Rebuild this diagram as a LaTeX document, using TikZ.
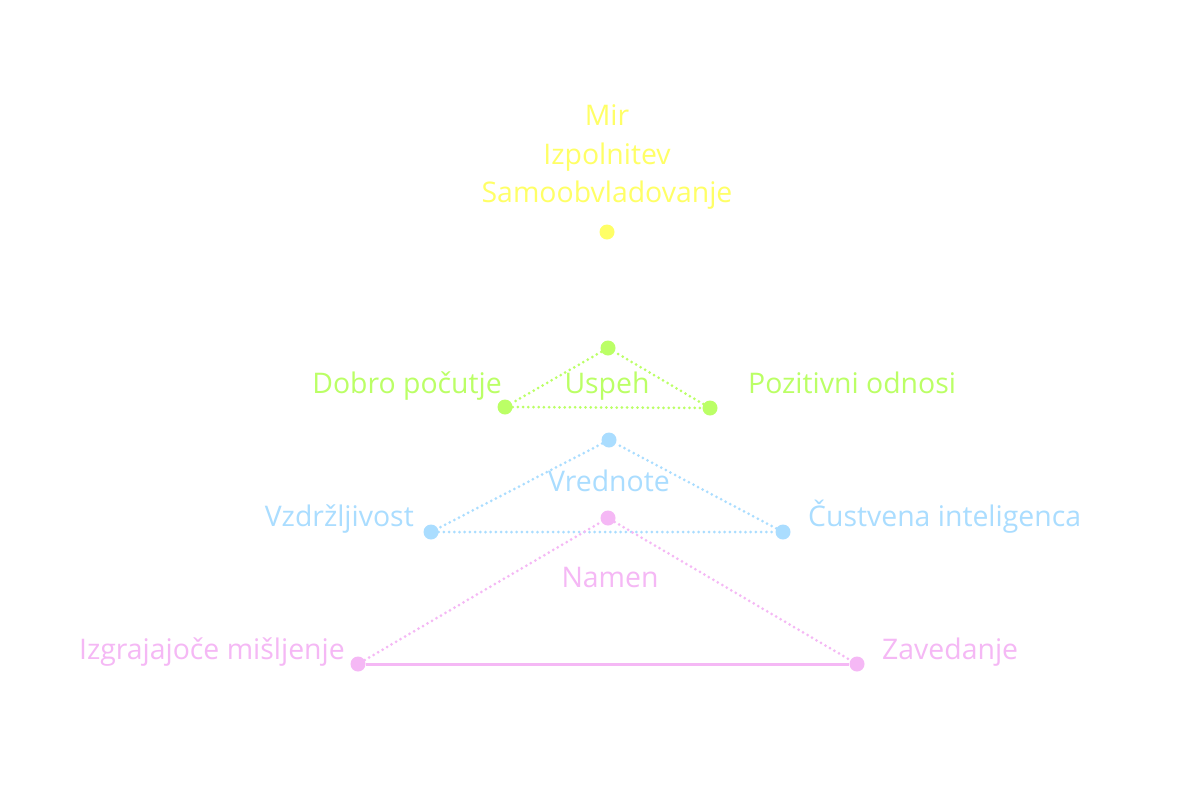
\documentclass[tikz,border=0pt]{standalone}
\usepackage{fontspec}
\setmainfont{Open Sans}
\definecolor{cy}{HTML}{FFFF66}
\definecolor{cg}{HTML}{BBFF66}
\definecolor{cb}{HTML}{AADDFF}
\definecolor{cp}{HTML}{F5B8F5}
\tikzset{
  pt/.style={circle,fill=#1,inner sep=0pt,minimum size=15pt},
  lbl/.style={text=#1,inner sep=0pt,font=\fontsize{28.4}{38.5}\selectfont},
  edge/.style={draw=#1,line width=3pt,dash pattern=on 0pt off 5.2pt,line cap=round},
  solidedge/.style={draw=#1,line width=3pt},
}
\begin{document}
\begin{tikzpicture}[x=1pt,y=-1pt]
\useasboundingbox[fill=white] (0,0) rectangle (1201,801);
% yellow
\node[pt=cy] (y) at (607,232) {};
\node[lbl=cy,align=center] (ytext) at (607,157) {Mir\\Izpolnitev\\Samoobvladovanje};
% green
\node[pt=cg] (gt) at (608,348) {};
\node[pt=cg] (gl) at (505,407) {};
\node[pt=cg] (gr) at (710,408) {};
\draw[edge=cg] (gt) -- (gl) -- (gr) -- (gt);
\node[lbl=cg] (gc) at (607,386) {Uspeh};
\node[lbl=cg,anchor=east] (glt) at (502,386) {Dobro počutje};
\node[lbl=cg,anchor=west] (grt) at (748,383) {Pozitivni odnosi};
% blue
\node[pt=cb] (bt) at (609,440) {};
\node[pt=cb] (bl) at (431,532) {};
\node[pt=cb] (br) at (783,532) {};
\draw[edge=cb] (bt) -- (bl) -- (br) -- (bt);
\node[lbl=cb] (bc) at (609,481) {Vrednote};
\node[lbl=cb,anchor=east] (blt) at (414,519) {Vzdržljivost};
\node[lbl=cb,anchor=west] (brt) at (808,517) {Čustvena inteligenca};
% pink
\node[pt=cp] (pt) at (608,518) {};
\node[pt=cp] (pl) at (358,664) {};
\node[pt=cp] (pr) at (857,664) {};
\draw[edge=cp] (pl) -- (pt) -- (pr);
\draw[solidedge=cp] (pl) -- (pr);
\node[lbl=cp] (pc) at (610,577) {Namen};
\node[lbl=cp,anchor=east] (plt) at (345,652) {Izgrajajoče mišljenje};
\node[lbl=cp,anchor=west] (prt) at (882,652) {Zavedanje};
\end{tikzpicture}
\end{document}
